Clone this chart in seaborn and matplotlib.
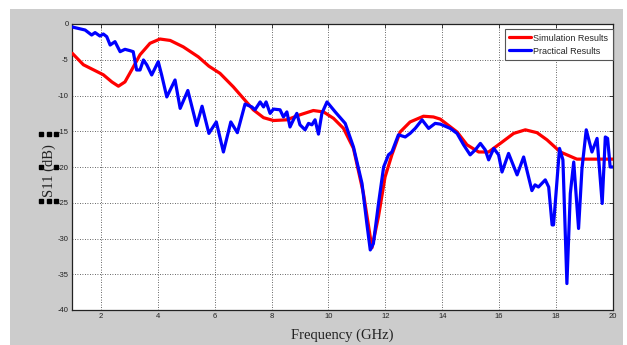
import matplotlib
matplotlib.use("Agg")
import matplotlib.pyplot as plt
import matplotlib.font_manager as fm
from matplotlib.patches import Rectangle
from matplotlib.lines import Line2D
import seaborn as sns
import pandas as pd

# ---------------- data ----------------
sim_freq = [1.0, 1.39, 1.74, 2.09, 2.39, 2.62, 2.85, 3.09, 3.38, 3.73, 4.08, 4.44,
            4.9, 5.43, 5.8, 6.19, 6.66, 7.01, 7.36, 7.72, 8.07, 8.54, 9.0, 9.47,
            9.83, 10.18, 10.53, 10.88, 11.23, 11.53, 11.76, 11.99, 12.23, 12.52,
            12.87, 13.34, 13.69, 13.93, 14.52, 14.87, 15.28, 15.63, 16.04, 16.51,
            16.92, 17.33, 17.68, 18.15, 18.73, 20.0]
sim_db = [-4.1, -5.7, -6.4, -7.1, -8.1, -8.7, -8.1, -6.4, -4.3, -2.7, -2.1, -2.3,
          -3.2, -4.6, -5.9, -6.9, -8.8, -10.4, -12.0, -13.1, -13.5, -13.4, -12.7, -12.1,
          -12.3, -13.2, -14.6, -17.4, -23.7, -31.3, -26.9, -21.4, -18.3, -15.1,
          -13.7, -12.9, -13.0, -13.3, -15.1, -16.9, -17.9, -17.9, -16.7, -15.3,
          -14.8, -15.2, -16.2, -17.9, -18.9, -18.9]

prac_freq = [1.0, 1.04, 1.45, 1.68, 1.80, 1.97, 2.09, 2.21, 2.33, 2.5, 2.68, 2.85,
             3.03, 3.14, 3.26, 3.38, 3.5, 3.62, 3.79, 4.02, 4.14, 4.32, 4.61, 4.79,
             5.06, 5.37, 5.56, 5.8, 6.06, 6.31, 6.57, 6.8, 7.07, 7.31, 7.42, 7.6,
             7.72, 7.81, 7.95, 8.07, 8.3, 8.42, 8.54, 8.65, 8.77, 8.89, 9.0, 9.18,
             9.3, 9.42, 9.53, 9.65, 9.77, 9.95, 10.24, 10.59, 10.88, 11.18, 11.35,
             11.47, 11.58, 11.76, 11.94, 12.11, 12.23, 12.46, 12.7, 12.87, 13.05,
             13.29, 13.52, 13.75, 13.93, 14.28, 14.52, 14.75, 14.98, 15.16, 15.34,
             15.51, 15.63, 15.81, 15.98, 16.1, 16.33, 16.63, 16.86, 17.15, 17.26,
             17.38, 17.62, 17.74, 17.86, 17.91, 17.97, 18.12, 18.24, 18.38, 18.5,
             18.62, 18.79, 18.91, 19.06, 19.26, 19.44, 19.62, 19.73, 19.81, 19.9, 20.0]
prac_db = [-0.4, -0.46, -0.84, -1.54, -1.2, -1.68, -1.4, -1.77, -2.94, -2.47, -3.87, -3.54,
           -3.73, -3.87, -6.43, -6.43, -5.03, -5.73, -7.13, -5.27, -7.13, -10.2, -7.83, -11.8,
           -9.3, -14.2, -11.5, -15.3, -13.7, -17.9, -13.7, -15.2, -11.2, -11.6, -12.0, -10.9,
           -11.6, -10.9, -12.5, -11.9, -12.0, -13.0, -12.3, -14.4, -13.4, -12.5, -14.1, -14.8,
           -13.9, -14.1, -13.4, -15.4, -12.5, -10.9, -12.3, -13.9, -17.2, -22.3, -27.9,
           -31.6, -30.7, -25.1, -20.0, -18.3, -17.9, -15.5, -15.8, -15.3, -14.6,
           -13.4, -14.6, -13.9, -14.0, -14.6, -15.3, -16.9, -18.3, -17.6, -16.7,
           -17.6, -19.0, -17.4, -18.3, -20.7, -18.1, -21.1, -18.6, -23.3, -22.5,
           -22.8, -21.8, -22.8, -28.1, -28.1, -25.1, -17.4, -19.0, -36.3, -23.7,
           -19.3, -28.6, -20.2, -14.8, -17.9, -16.0, -25.1, -15.8, -16.0, -20.0, -20.0]

x_ticks = [2, 4, 6, 8, 10, 12, 14, 16, 18, 20]
y_ticks = [0, -5, -10, -15, -20, -25, -30, -35, -40]
x_label = "Frequency (GHz)"
y_label = "S11 (dB)"
series_names = ["Simulation Results", "Practical Results"]

# ---------------- style ----------------
sns.set_style("white")
names = {f.name for f in fm.fontManager.ttflist}
narrow = "Liberation Sans Narrow" if "Liberation Sans Narrow" in names else "Liberation Sans"
serif = "Liberation Serif" if "Liberation Serif" in names else "DejaVu Serif"
plt.rcParams["font.family"] = [narrow, "DejaVu Sans"]
plt.rcParams["axes.unicode_minus"] = False

W, H = 627, 345
fig = plt.figure(figsize=(W / 100, H / 100), dpi=100, facecolor="white")
fig.add_artist(Rectangle((10 / W, 0), (623 - 10) / W, (H - 9) / H,
                         transform=fig.transFigure, facecolor="#cccccc",
                         edgecolor="none", zorder=-10))

ax_l, ax_r, ax_t, ax_b = 72.3, 613, 24, 310
ax = fig.add_axes([ax_l / W, (H - ax_b) / H, (ax_r - ax_l) / W, (ax_b - ax_t) / H])
ax.set_facecolor("white")

df_sim = pd.DataFrame({"freq": sim_freq, "db": sim_db})
df_prac = pd.DataFrame({"freq": prac_freq, "db": prac_db})
sns.lineplot(data=df_sim, x="freq", y="db", ax=ax, color="#ff0000", lw=2.3,
             label=series_names[0], estimator=None, sort=False, zorder=3)
sns.lineplot(data=df_prac, x="freq", y="db", ax=ax, color="#0000ff", lw=2.3,
             label=series_names[1], estimator=None, sort=False, zorder=4)

ax.set_xlim(1, 20)
ax.set_ylim(-40, 0)
ax.set_xticks(x_ticks)
ax.set_yticks(y_ticks)
ax.set_xticklabels([str(t) for t in x_ticks])
ax.set_yticklabels([str(t) for t in y_ticks])
ax.tick_params(direction="in", length=3, width=0.6, top=True, right=True,
               labelsize=5.5, colors="#222222", pad=2.5)
ax.grid(True, color="#333333", linestyle=(0, (1, 2)), linewidth=0.6)
ax.set_axisbelow(True)
for s in ax.spines.values():
    s.set_color("#222222")
    s.set_linewidth(0.9)

ax.set_xlabel(x_label, family=serif, fontsize=10.5, color="#222222")
ax.xaxis.set_label_coords(0.499, -0.066)
ax.set_ylabel(y_label, family=serif, fontsize=10.5, color="#222222")
ax.yaxis.set_label_coords(-0.03, 0.486)

leg = ax.legend(loc="upper right", bbox_to_anchor=(1.0, 1 - 5 / 286), borderaxespad=0,
                fontsize=6.5, frameon=True, fancybox=False, framealpha=1,
                edgecolor="#555555", handlelength=2.4, handletextpad=0.3,
                labelspacing=0.45, borderpad=0.5)
leg.get_frame().set_linewidth(0.8)
for h in leg.get_lines():
    h.set_linewidth(2.3)

# selection handles around the y label
hx = [41.5, 48.5, 55.5, 41.5, 55.5, 41.5, 48.5, 55.5]
hy = [134, 134, 134, 167, 167, 201, 201, 201]
fig.add_artist(Line2D([v / W for v in hx], [1 - v / H for v in hy],
                      transform=fig.transFigure, marker="s", linestyle="none",
                      markersize=2.5, color="black", zorder=-5))

fig.savefig("out.png", dpi=100, facecolor=fig.get_facecolor())
